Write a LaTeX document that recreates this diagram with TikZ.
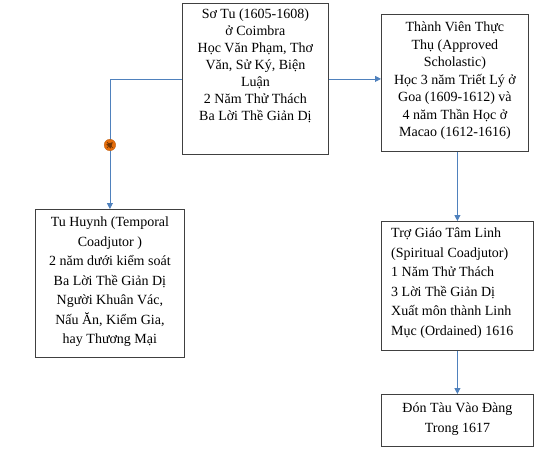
\documentclass[tikz,border=0pt]{standalone}
\usepackage{fontspec}
\setmainfont{Liberation Serif}
\usetikzlibrary{arrows.meta}
\definecolor{conn}{RGB}{79,129,189}
\definecolor{boxline}{RGB}{64,64,64}
\definecolor{mk}{RGB}{228,108,10}
\begin{document}
\begin{tikzpicture}[x=1pt,y=-1pt,
  box/.style={draw=boxline,line width=0.8pt,anchor=north west,inner sep=0pt},
  txtA/.style={anchor=north,inner sep=0pt,align=center,font=\fontsize{14}{17}\selectfont},
  txtB/.style={anchor=north,inner sep=0pt,align=center,font=\fontsize{14}{19.5}\selectfont},
  txtL/.style={anchor=north west,inner sep=0pt,align=left,font=\fontsize{14}{19.6}\selectfont},
  conn/.style={draw=conn,line width=0.8pt,-{Triangle[length=6pt,width=6pt]}},
  marker/.style={circle,fill=mk,draw=mk!80!black,line width=0.3pt,minimum size=11.5pt,inner sep=0pt,
    path picture={\draw[mk!50!black,line width=0.6pt]
      ([shift={(-2.8pt,2.8pt)}]path picture bounding box.center) -- ([shift={(2.8pt,-2.8pt)}]path picture bounding box.center)
      ([shift={(-2.8pt,-2.8pt)}]path picture bounding box.center) -- ([shift={(2.8pt,2.8pt)}]path picture bounding box.center);}}
]
\useasboundingbox (0,0) rectangle (551,458);
% boxes
\node[box,minimum width=146pt,minimum height=151pt] (b1) at (182,3) {};
\node[box,minimum width=147pt,minimum height=137pt] (b2) at (381,14) {};
\node[box,minimum width=149pt,minimum height=148pt] (b3) at (35,209) {};
\node[box,minimum width=152pt,minimum height=129pt] (b4) at (381,221) {};
\node[box,minimum width=152pt,minimum height=52pt] (b5) at (381,394) {};
% texts
\node[txtA] (t1) at ([yshift=-6pt]b1.north) {Sơ Tu (1605-1608)\\ở Coimbra\\Học Văn Phạm, Thơ\\Văn, Sử Ký, Biện\\Luận\\2 Năm Thử Thách\\Ba Lời Thề Giản Dị};
\node[txtA,font=\fontsize{14}{17.5}\selectfont] (t2) at ([yshift=-8pt]b2.north) {Thành Viên Thực\\Thụ (Approved\\Scholastic)\\Học 3 năm Triết Lý ở\\Goa (1609-1612) và\\4 năm Thần Học ở\\Macao (1612-1616)};
\node[txtB] (t3) at ([yshift=-8pt]b3.north) {Tu Huynh (Temporal\\Coadjutor )\\2 năm dưới kiểm soát\\Ba Lời Thề Giản Dị\\Người Khuân Vác,\\Nấu Ăn, Kiểm Gia,\\hay Thương Mại};
\node[txtL] (t4) at ([shift={(10pt,-6.5pt)}]b4.north west) {Trợ Giáo Tâm Linh\\(Spiritual Coadjutor)\\1 Năm Thử Thách\\3 Lời Thề Giản Dị\\Xuất môn thành Linh\\Mục (Ordained) 1616};
\node[txtB] (t5) at ([yshift=-9pt]b5.north) {Đón Tàu Vào Đàng\\Trong 1617};
% connectors
\draw[conn] (b1.east) -- (b1.east -| b2.west);
\draw[conn] (b1.west) -| node[marker,pos=0.754] (mk) {} (b3.north);
\draw[conn] (b4.north |- b2.south) -- (b4.north);
\draw[conn] (b4.south) -- (b5.north);
\end{tikzpicture}
\end{document}
